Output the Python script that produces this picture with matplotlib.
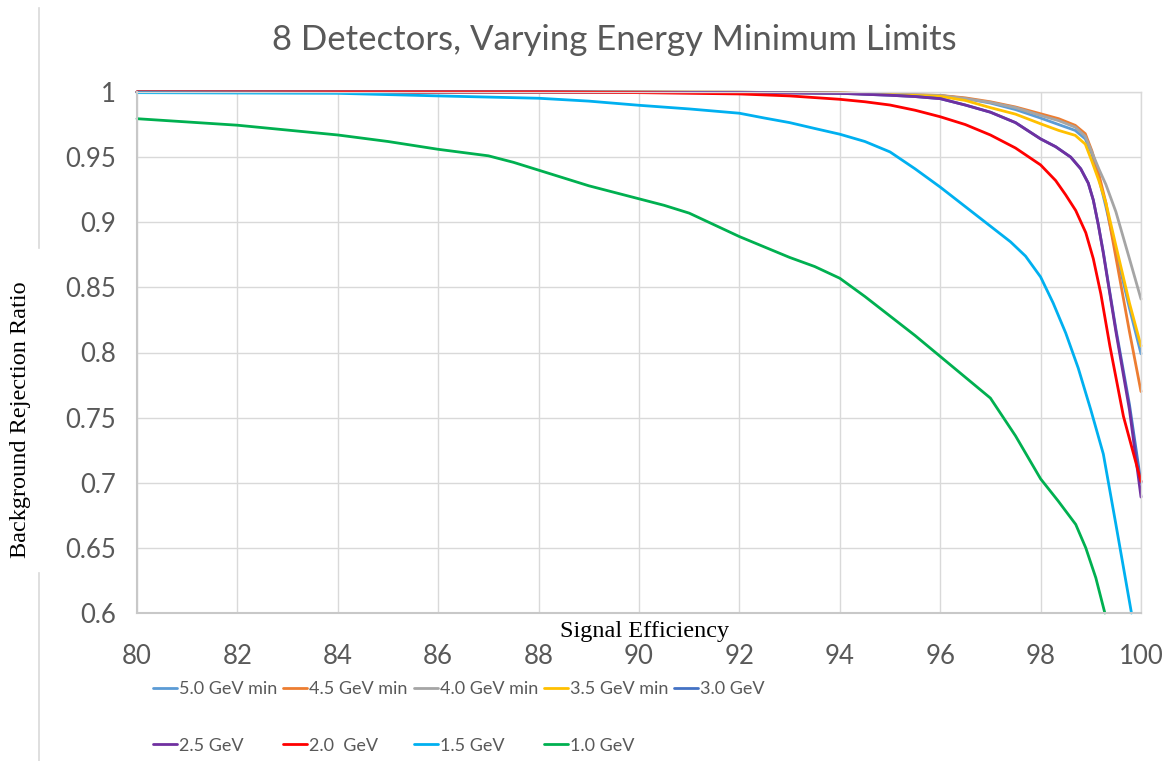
import matplotlib
matplotlib.use("Agg")
import matplotlib.pyplot as plt
from matplotlib.lines import Line2D
from matplotlib.ticker import FuncFormatter, MultipleLocator

# ---------------- data ----------------
labels = ["5.0 GeV min", "4.5 GeV min", "4.0 GeV min", "3.5 GeV min", "3.0 GeV",
          "2.5 GeV", "2.0  GeV", "1.5 GeV", "1.0 GeV"]
colors = ["#5B9BD5", "#ED7D31", "#A5A5A5", "#FFC000", "#4472C4",
          "#7030A0", "#FF0000", "#00B0F0", "#00B050"]

x_hi = [80, 88, 92, 94, 95, 96, 96.5, 97, 97.5, 98, 98.36, 98.69, 98.89, 99.02, 99.16, 99.3, 99.5, 99.77, 100]
y_50 = [1.0, 1.0, 0.9998, 0.9992, 0.9980, 0.9972, 0.9950, 0.9915, 0.9865, 0.9800, 0.9750, 0.9705, 0.9640, 0.9526, 0.934, 0.912, 0.878, 0.834, 0.799]
y_45 = [1.0, 1.0, 0.9998, 0.9993, 0.9984, 0.9974, 0.9955, 0.9925, 0.9885, 0.9833, 0.9795, 0.9744, 0.9680, 0.9550, 0.937, 0.915, 0.873, 0.816, 0.770]
y_40 = [1.0, 1.0, 0.9998, 0.9993, 0.9984, 0.9973, 0.9950, 0.9920, 0.9880, 0.9820, 0.9780, 0.9730, 0.9660, 0.9540, 0.941, 0.929, 0.908, 0.872, 0.841]
y_35 = [1.0, 1.0, 0.9998, 0.9992, 0.9980, 0.9967, 0.9935, 0.9880, 0.9830, 0.9756, 0.9705, 0.9667, 0.9600, 0.9470, 0.932, 0.915, 0.882, 0.838, 0.805]

x_mid = [80, 88, 92, 94, 95, 95.5, 96, 96.5, 97, 97.5, 98, 98.3, 98.6, 98.8, 98.95, 99.05, 99.15, 99.25, 99.35, 99.5, 99.77, 100]
y_30 = [1.0, 1.0, 0.9996, 0.9990, 0.9975, 0.9965, 0.9949, 0.990, 0.9845, 0.9765, 0.964, 0.958, 0.950, 0.941, 0.930, 0.917, 0.898, 0.877, 0.853, 0.818, 0.760, 0.700]
y_25 = [1.0, 1.0, 0.9996, 0.9990, 0.9975, 0.9965, 0.9949, 0.990, 0.9845, 0.9765, 0.964, 0.958, 0.950, 0.941, 0.930, 0.917, 0.898, 0.876, 0.852, 0.816, 0.756, 0.689]

x_20 = [80, 88, 90, 92, 93, 94, 94.5, 95, 95.5, 96, 96.5, 97, 97.5, 98, 98.3, 98.5, 98.7, 98.9, 99.05, 99.2, 99.38, 99.65, 100]
y_20 = [1.0, 1.0, 0.9995, 0.9985, 0.997, 0.9944, 0.9925, 0.990, 0.986, 0.981, 0.975, 0.967, 0.957, 0.944, 0.932, 0.921, 0.909, 0.892, 0.872, 0.845, 0.805, 0.751, 0.701]

x_15 = [80, 84, 86, 88, 89, 90, 91, 92, 92.5, 93, 93.5, 94, 94.5, 95, 95.5, 96, 96.5, 97, 97.4, 97.7, 98, 98.25, 98.5, 98.75, 99, 99.25, 99.5, 99.81]
y_15 = [0.9995, 0.999, 0.997, 0.9952, 0.993, 0.9898, 0.987, 0.9837, 0.980, 0.9765, 0.972, 0.9676, 0.962, 0.954, 0.941, 0.927, 0.912, 0.897, 0.885, 0.874, 0.858, 0.838, 0.815, 0.788, 0.756, 0.722, 0.668, 0.600]

x_10 = [80, 82, 84, 85, 86, 87, 87.5, 88, 88.5, 89, 90, 90.5, 91, 91.5, 92, 92.5, 93, 93.5, 94, 94.5, 95, 95.5, 96, 96.5, 97, 97.5, 98, 98.35, 98.7, 98.9, 99.1, 99.28]
y_10 = [0.9795, 0.9745, 0.967, 0.962, 0.956, 0.951, 0.946, 0.940, 0.934, 0.928, 0.918, 0.913, 0.907, 0.898, 0.889, 0.881, 0.873, 0.866, 0.857, 0.843, 0.828, 0.813, 0.797, 0.781, 0.765, 0.736, 0.703, 0.686, 0.668, 0.650, 0.627, 0.600]

series = [(x_hi, y_50), (x_hi, y_45), (x_hi, y_40), (x_hi, y_35), (x_mid, y_30),
          (x_mid, y_25), (x_20, y_20), (x_15, y_15), (x_10, y_10)]

title = "8 Detectors, Varying Energy Minimum Limits"
xlabel = "Signal Efficiency"
ylabel = "Background Rejection Ratio"

# ---------------- figure ----------------
W, H = 1172, 761
fig = plt.figure(figsize=(W / 100, H / 100), dpi=100)
fig.patch.set_facecolor("white")
ax = fig.add_axes([137 / W, 1 - 613 / H, (1141 - 137) / W, (613 - 92) / H])

handles = []
for (xs, ys), lab, col in zip(series, labels, colors):
    h, = ax.plot(xs, ys, color=col, lw=2.0, label=lab, clip_on=False,
                 solid_capstyle="round", solid_joinstyle="round")
    handles.append(h)

ax.set_xlim(80, 100)
ax.set_ylim(0.6, 1.0)
ax.xaxis.set_major_locator(MultipleLocator(2))
ax.yaxis.set_major_locator(MultipleLocator(0.05))
ax.yaxis.set_major_formatter(FuncFormatter(lambda v, p: f"{v:g}"))
ax.grid(True, color="#d9d9d9", lw=1.0)
ax.set_axisbelow(True)
for s in ax.spines.values():
    s.set_color("#d9d9d9")
    s.set_linewidth(1.0)
ax.spines["left"].set_color("#c8c8c8")
ax.spines["bottom"].set_color("#c8c8c8")
ax.spines["left"].set_linewidth(1.5)
ax.spines["bottom"].set_linewidth(1.5)

ax.tick_params(axis="both", length=0, colors="#595959", labelsize=18.5)
ax.tick_params(axis="x", pad=22)
ax.tick_params(axis="y", pad=15)
for lab in ax.get_xticklabels() + ax.get_yticklabels():
    lab.set_fontfamily("Lato")

fig.text(614 / W, 1 - 40 / H, title, ha="center", va="center",
         fontsize=25, color="#595959", family="Lato")
fig.text(645 / W, 1 - 632 / H, xlabel, ha="center", va="center",
         fontsize=17.5, color="black", family="Liberation Serif")
fig.text(21 / W, 1 - 420 / H, ylabel, ha="center", va="center", rotation=90,
         fontsize=17.5, color="black", family="Liberation Serif")

# decorative slide border line interrupted by the y label
fig.add_artist(Line2D([39 / W, 39 / W], [1 - 8 / H, 1 - 248 / H], color="#d9d9d9", lw=1.2))
fig.add_artist(Line2D([39 / W, 39 / W], [1 - 573 / H, 0], color="#d9d9d9", lw=1.2))

order = [0, 5, 1, 6, 2, 7, 3, 8, 4]
leg = fig.legend([handles[i] for i in order], [labels[i] for i in order],
                 ncol=5, loc="upper left", bbox_to_anchor=(153 / W, 1 - 681 / H),
                 frameon=False, prop=dict(family="Lato", size=13),
                 handlelength=1.33, handletextpad=0.12, columnspacing=0.32,
                 labelspacing=2.25, borderaxespad=0, borderpad=0)
for t in leg.get_texts():
    t.set_color("#595959")

fig.savefig("out.png", dpi=100, facecolor="white")
